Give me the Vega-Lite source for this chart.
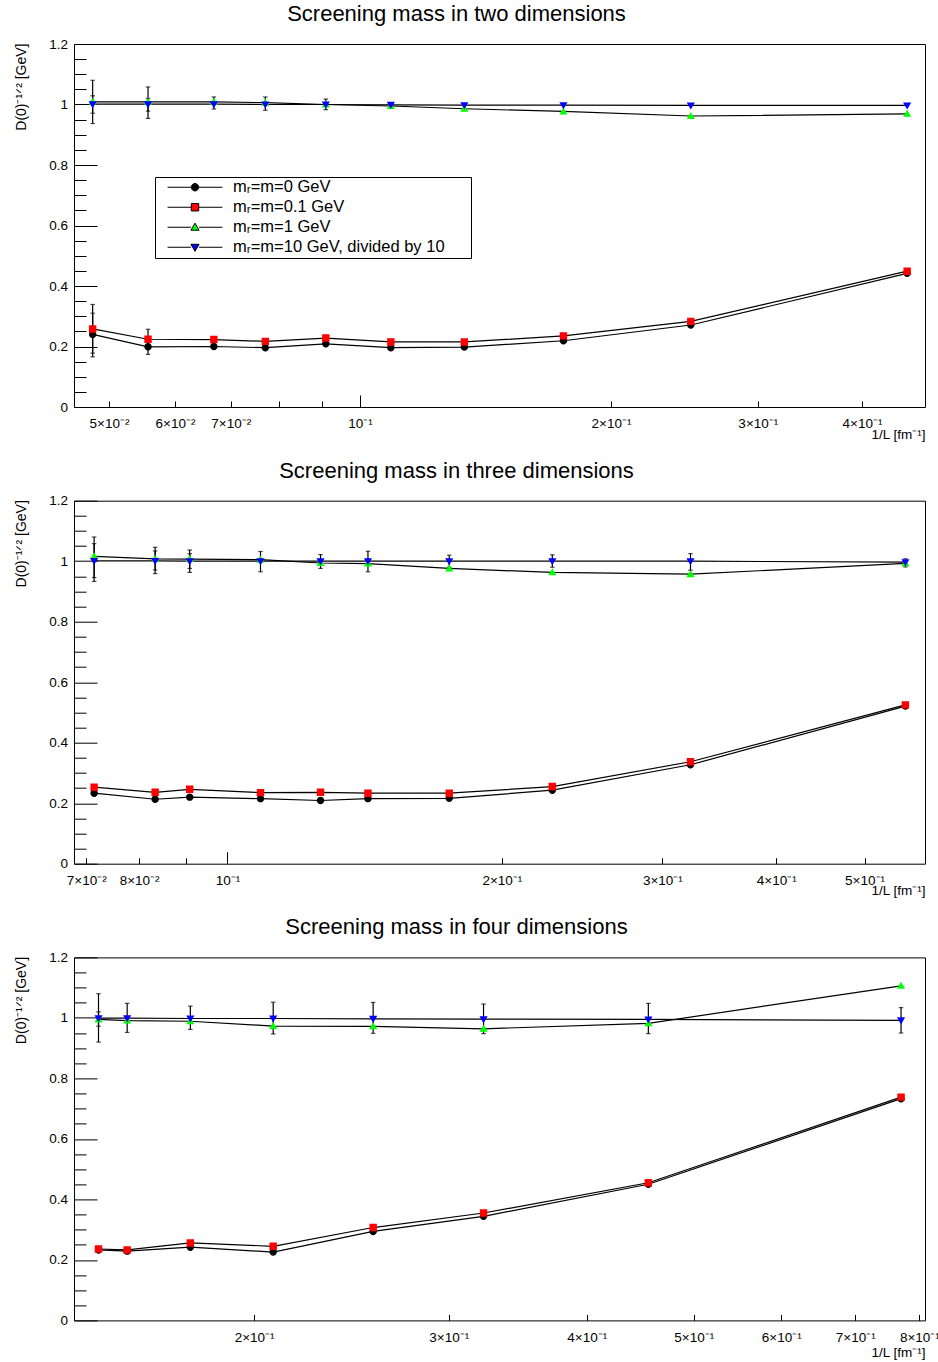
{
  "$schema": "https://vega.github.io/schema/vega-lite/v6.json",
  "autosize": {"type": "pad"},
  "padding": {"left": 13, "top": 2, "right": 0, "bottom": 0},
  "background": "white",
  "config": {
    "font": "Liberation Sans",
    "view": {"stroke": "black", "strokeWidth": 1},
    "axis": {"grid": false, "domain": false, "tickColor": "black", "tickWidth": 1, "labelColor": "black", "titleColor": "black", "labelFont": "Liberation Sans", "titleFont": "Liberation Sans", "titleFontWeight": "normal", "labelFontSize": 13.5, "titleFontSize": 14, "labelOverlap": false, "labelFlush": false, "labelBound": false}
  },
  "data": {"values": [
    {"d":2,"s":"mᵣ=m=0 GeV","x":0.0478,"y":0.240,"lo":0.166,"hi":0.310},
    {"d":2,"s":"mᵣ=m=0 GeV","x":0.0557,"y":0.199,"lo":0.174,"hi":0.224},
    {"d":2,"s":"mᵣ=m=0 GeV","x":0.0668,"y":0.200},
    {"d":2,"s":"mᵣ=m=0 GeV","x":0.0770,"y":0.196},
    {"d":2,"s":"mᵣ=m=0 GeV","x":0.0910,"y":0.209},
    {"d":2,"s":"mᵣ=m=0 GeV","x":0.1089,"y":0.196},
    {"d":2,"s":"mᵣ=m=0 GeV","x":0.1334,"y":0.198},
    {"d":2,"s":"mᵣ=m=0 GeV","x":0.1754,"y":0.219},
    {"d":2,"s":"mᵣ=m=0 GeV","x":0.2493,"y":0.271},
    {"d":2,"s":"mᵣ=m=0 GeV","x":0.4531,"y":0.442},
    {"d":2,"s":"mᵣ=m=0.1 GeV","x":0.0478,"y":0.258,"lo":0.178,"hi":0.339},
    {"d":2,"s":"mᵣ=m=0.1 GeV","x":0.0557,"y":0.224,"lo":0.191,"hi":0.257},
    {"d":2,"s":"mᵣ=m=0.1 GeV","x":0.0668,"y":0.223},
    {"d":2,"s":"mᵣ=m=0.1 GeV","x":0.0770,"y":0.217},
    {"d":2,"s":"mᵣ=m=0.1 GeV","x":0.0910,"y":0.228},
    {"d":2,"s":"mᵣ=m=0.1 GeV","x":0.1089,"y":0.215},
    {"d":2,"s":"mᵣ=m=0.1 GeV","x":0.1334,"y":0.215},
    {"d":2,"s":"mᵣ=m=0.1 GeV","x":0.1754,"y":0.235},
    {"d":2,"s":"mᵣ=m=0.1 GeV","x":0.2493,"y":0.283},
    {"d":2,"s":"mᵣ=m=0.1 GeV","x":0.4531,"y":0.449},
    {"d":2,"s":"mᵣ=m=1 GeV","x":0.0478,"y":1.009,"lo":0.937,"hi":1.080},
    {"d":2,"s":"mᵣ=m=1 GeV","x":0.0557,"y":1.009,"lo":0.954,"hi":1.058},
    {"d":2,"s":"mᵣ=m=1 GeV","x":0.0668,"y":1.009,"lo":0.985,"hi":1.025},
    {"d":2,"s":"mᵣ=m=1 GeV","x":0.0770,"y":1.006,"lo":0.981,"hi":1.025},
    {"d":2,"s":"mᵣ=m=1 GeV","x":0.0910,"y":1.000},
    {"d":2,"s":"mᵣ=m=1 GeV","x":0.1089,"y":0.995},
    {"d":2,"s":"mᵣ=m=1 GeV","x":0.1334,"y":0.986},
    {"d":2,"s":"mᵣ=m=1 GeV","x":0.1754,"y":0.977},
    {"d":2,"s":"mᵣ=m=1 GeV","x":0.2493,"y":0.962},
    {"d":2,"s":"mᵣ=m=1 GeV","x":0.4531,"y":0.969},
    {"d":2,"s":"mᵣ=m=10 GeV, divided by 10","x":0.0478,"y":1.001,"lo":0.971,"hi":1.029},
    {"d":2,"s":"mᵣ=m=10 GeV, divided by 10","x":0.0557,"y":1.001,"lo":0.978,"hi":1.020},
    {"d":2,"s":"mᵣ=m=10 GeV, divided by 10","x":0.0668,"y":1.001},
    {"d":2,"s":"mᵣ=m=10 GeV, divided by 10","x":0.0770,"y":1.000},
    {"d":2,"s":"mᵣ=m=10 GeV, divided by 10","x":0.0910,"y":1.000,"lo":0.983,"hi":1.018},
    {"d":2,"s":"mᵣ=m=10 GeV, divided by 10","x":0.1089,"y":0.999},
    {"d":2,"s":"mᵣ=m=10 GeV, divided by 10","x":0.1334,"y":0.998},
    {"d":2,"s":"mᵣ=m=10 GeV, divided by 10","x":0.1754,"y":0.998},
    {"d":2,"s":"mᵣ=m=10 GeV, divided by 10","x":0.2493,"y":0.997},
    {"d":2,"s":"mᵣ=m=10 GeV, divided by 10","x":0.4531,"y":0.997},

    {"d":3,"s":"mᵣ=m=0 GeV","x":0.0714,"y":0.233},
    {"d":3,"s":"mᵣ=m=0 GeV","x":0.0833,"y":0.213},
    {"d":3,"s":"mᵣ=m=0 GeV","x":0.0909,"y":0.220},
    {"d":3,"s":"mᵣ=m=0 GeV","x":0.1087,"y":0.215},
    {"d":3,"s":"mᵣ=m=0 GeV","x":0.1265,"y":0.209},
    {"d":3,"s":"mᵣ=m=0 GeV","x":0.1426,"y":0.215},
    {"d":3,"s":"mᵣ=m=0 GeV","x":0.1751,"y":0.216},
    {"d":3,"s":"mᵣ=m=0 GeV","x":0.2272,"y":0.243},
    {"d":3,"s":"mᵣ=m=0 GeV","x":0.3221,"y":0.327},
    {"d":3,"s":"mᵣ=m=0 GeV","x":0.5544,"y":0.521},
    {"d":3,"s":"mᵣ=m=0.1 GeV","x":0.0714,"y":0.253},
    {"d":3,"s":"mᵣ=m=0.1 GeV","x":0.0833,"y":0.236},
    {"d":3,"s":"mᵣ=m=0.1 GeV","x":0.0909,"y":0.246},
    {"d":3,"s":"mᵣ=m=0.1 GeV","x":0.1087,"y":0.235},
    {"d":3,"s":"mᵣ=m=0.1 GeV","x":0.1265,"y":0.236},
    {"d":3,"s":"mᵣ=m=0.1 GeV","x":0.1426,"y":0.233},
    {"d":3,"s":"mᵣ=m=0.1 GeV","x":0.1751,"y":0.233},
    {"d":3,"s":"mᵣ=m=0.1 GeV","x":0.2272,"y":0.255},
    {"d":3,"s":"mᵣ=m=0.1 GeV","x":0.3221,"y":0.337},
    {"d":3,"s":"mᵣ=m=0.1 GeV","x":0.5544,"y":0.525},
    {"d":3,"s":"mᵣ=m=1 GeV","x":0.0714,"y":1.016,"lo":0.946,"hi":1.080},
    {"d":3,"s":"mᵣ=m=1 GeV","x":0.0833,"y":1.008,"lo":0.971,"hi":1.034},
    {"d":3,"s":"mᵣ=m=1 GeV","x":0.0909,"y":1.007,"lo":0.976,"hi":1.025},
    {"d":3,"s":"mᵣ=m=1 GeV","x":0.1087,"y":1.005},
    {"d":3,"s":"mᵣ=m=1 GeV","x":0.1265,"y":0.994},
    {"d":3,"s":"mᵣ=m=1 GeV","x":0.1426,"y":0.992},
    {"d":3,"s":"mᵣ=m=1 GeV","x":0.1751,"y":0.976},
    {"d":3,"s":"mᵣ=m=1 GeV","x":0.2272,"y":0.963},
    {"d":3,"s":"mᵣ=m=1 GeV","x":0.3221,"y":0.957},
    {"d":3,"s":"mᵣ=m=1 GeV","x":0.5544,"y":0.993},
    {"d":3,"s":"mᵣ=m=10 GeV, divided by 10","x":0.0714,"y":1.001,"lo":0.933,"hi":1.058},
    {"d":3,"s":"mᵣ=m=10 GeV, divided by 10","x":0.0833,"y":1.001,"lo":0.959,"hi":1.046},
    {"d":3,"s":"mᵣ=m=10 GeV, divided by 10","x":0.0909,"y":1.000,"lo":0.963,"hi":1.037},
    {"d":3,"s":"mᵣ=m=10 GeV, divided by 10","x":0.1087,"y":1.000,"lo":0.965,"hi":1.032},
    {"d":3,"s":"mᵣ=m=10 GeV, divided by 10","x":0.1265,"y":1.000,"lo":0.976,"hi":1.022},
    {"d":3,"s":"mᵣ=m=10 GeV, divided by 10","x":0.1426,"y":1.000,"lo":0.965,"hi":1.033},
    {"d":3,"s":"mᵣ=m=10 GeV, divided by 10","x":0.1751,"y":1.000,"lo":0.980,"hi":1.020},
    {"d":3,"s":"mᵣ=m=10 GeV, divided by 10","x":0.2272,"y":1.000,"lo":0.980,"hi":1.021},
    {"d":3,"s":"mᵣ=m=10 GeV, divided by 10","x":0.3221,"y":1.000,"lo":0.970,"hi":1.025},
    {"d":3,"s":"mᵣ=m=10 GeV, divided by 10","x":0.5544,"y":0.997,"lo":0.981,"hi":1.008},

    {"d":4,"s":"mᵣ=m=0 GeV","x":0.1446,"y":0.233},
    {"d":4,"s":"mᵣ=m=0 GeV","x":0.1535,"y":0.229},
    {"d":4,"s":"mᵣ=m=0 GeV","x":0.1751,"y":0.242},
    {"d":4,"s":"mᵣ=m=0 GeV","x":0.2081,"y":0.226},
    {"d":4,"s":"mᵣ=m=0 GeV","x":0.2563,"y":0.294},
    {"d":4,"s":"mᵣ=m=0 GeV","x":0.3226,"y":0.344},
    {"d":4,"s":"mᵣ=m=0 GeV","x":0.4548,"y":0.450},
    {"d":4,"s":"mᵣ=m=0 GeV","x":0.7701,"y":0.733},
    {"d":4,"s":"mᵣ=m=0.1 GeV","x":0.1446,"y":0.236},
    {"d":4,"s":"mᵣ=m=0.1 GeV","x":0.1535,"y":0.233},
    {"d":4,"s":"mᵣ=m=0.1 GeV","x":0.1751,"y":0.256},
    {"d":4,"s":"mᵣ=m=0.1 GeV","x":0.2081,"y":0.245},
    {"d":4,"s":"mᵣ=m=0.1 GeV","x":0.2563,"y":0.307},
    {"d":4,"s":"mᵣ=m=0.1 GeV","x":0.3226,"y":0.355},
    {"d":4,"s":"mᵣ=m=0.1 GeV","x":0.4548,"y":0.455},
    {"d":4,"s":"mᵣ=m=0.1 GeV","x":0.7701,"y":0.738},
    {"d":4,"s":"mᵣ=m=1 GeV","x":0.1446,"y":0.995,"lo":0.9725,"hi":1.020},
    {"d":4,"s":"mᵣ=m=1 GeV","x":0.1535,"y":0.991},
    {"d":4,"s":"mᵣ=m=1 GeV","x":0.1751,"y":0.989},
    {"d":4,"s":"mᵣ=m=1 GeV","x":0.2081,"y":0.973},
    {"d":4,"s":"mᵣ=m=1 GeV","x":0.2563,"y":0.972},
    {"d":4,"s":"mᵣ=m=1 GeV","x":0.3226,"y":0.964},
    {"d":4,"s":"mᵣ=m=1 GeV","x":0.4548,"y":0.982},
    {"d":4,"s":"mᵣ=m=1 GeV","x":0.7701,"y":1.106},
    {"d":4,"s":"mᵣ=m=10 GeV, divided by 10","x":0.1446,"y":0.999,"lo":0.920,"hi":1.080},
    {"d":4,"s":"mᵣ=m=10 GeV, divided by 10","x":0.1535,"y":0.999,"lo":0.952,"hi":1.048},
    {"d":4,"s":"mᵣ=m=10 GeV, divided by 10","x":0.1751,"y":0.998,"lo":0.962,"hi":1.039},
    {"d":4,"s":"mᵣ=m=10 GeV, divided by 10","x":0.2081,"y":0.998,"lo":0.947,"hi":1.052},
    {"d":4,"s":"mᵣ=m=10 GeV, divided by 10","x":0.2563,"y":0.997,"lo":0.949,"hi":1.051},
    {"d":4,"s":"mᵣ=m=10 GeV, divided by 10","x":0.3226,"y":0.996,"lo":0.948,"hi":1.046},
    {"d":4,"s":"mᵣ=m=10 GeV, divided by 10","x":0.4548,"y":0.995,"lo":0.948,"hi":1.048},
    {"d":4,"s":"mᵣ=m=10 GeV, divided by 10","x":0.7701,"y":0.992,"lo":0.950,"hi":1.034}
  ]},
  "spacing": 93.7,
  "bounds": "flush",
  "resolve": {"scale": {"x": "independent", "y": "independent", "shape": "independent", "fill": "independent", "stroke": "independent"}, "axis": {"x": "independent", "y": "independent"}, "legend": {"shape": "independent", "fill": "independent", "stroke": "independent"}},
  "vconcat": [
    {
      "title": {"text": "Screening mass in two dimensions", "fontSize": 22, "fontWeight": "normal", "font": "Liberation Sans", "color": "black", "anchor": "middle", "frame": "group", "dx": -43, "baseline": "alphabetic", "offset": -6},
      "width": 851, "height": 363,
      "transform": [{"filter": "datum.d == 2"}],
      "layer": [
        {
          "mark": {"type": "line", "color": "black", "strokeWidth": 1.2},
          "encoding": {
            "x": {"field": "x", "type": "quantitative", "scale": {"type": "log", "domain": [0.0454, 0.476], "nice": false},
              "axis": {"orient": "bottom", "values": [0.05, 0.06, 0.07, 0.08, 0.09, 0.1, 0.2, 0.3, 0.4], "tickSize": -6, "labelPadding": 26.7, "labelBaseline": "alphabetic",
                "labelExpr": "datum.value < 0.055 ? '5×10⁻²' : datum.value < 0.065 ? '6×10⁻²' : datum.value < 0.075 ? '7×10⁻²' : datum.value < 0.095 ? '' : datum.value < 0.15 ? '10⁻¹' : datum.value < 0.25 ? '2×10⁻¹' : datum.value < 0.35 ? '3×10⁻¹' : '4×10⁻¹'",
                "title": "1/L [fm⁻¹]", "titleX": 851, "titleY": 31, "titleAlign": "right", "titleAnchor": "end", "titleBaseline": "alphabetic", "titleFontSize": 13.5}},
            "y": {"field": "y", "type": "quantitative", "scale": {"domain": [0, 1.2], "nice": false, "zero": false},
              "axis": {"orient": "left", "values": [0, 0.2, 0.4, 0.6, 0.8, 1, 1.2], "format": "~g", "tickSize": -23, "labelPadding": 29.5,
                "title": "D(0)⁻¹ᐟ² [GeV]", "titleAngle": 270, "titleX": -49, "titleY": -1, "titleAlign": "right", "titleAnchor": "end", "titleBaseline": "alphabetic", "titleFontSize": 14}},
            "detail": {"field": "s", "type": "nominal"}
          }
        },
        {
          "transform": [{"filter": "isValid(datum.lo)"}],
          "mark": {"type": "errorbar", "color": "black", "thickness": 1.2, "ticks": {"size": 4.5, "thickness": 1.2, "color": "black"}},
          "encoding": {
            "x": {"field": "x", "type": "quantitative", "axis": null},
            "y": {"field": "lo", "type": "quantitative", "axis": null},
            "y2": {"field": "hi"}
          }
        },
        {
          "mark": {"type": "point", "filled": true, "size": 55, "opacity": 1},
          "encoding": {
            "x": {"field": "x", "type": "quantitative", "axis": {"orient": "bottom", "values": [0.1], "tickSize": -12, "labels": false, "title": null}},
            "y": {"field": "y", "type": "quantitative", "axis": {"orient": "left", "values": [0.05, 0.1, 0.15, 0.25, 0.3, 0.35, 0.45, 0.5, 0.55, 0.65, 0.7, 0.75, 0.85, 0.9, 0.95, 1.05, 1.1, 1.15], "tickSize": -12, "labels": false, "title": null}},
            "strokeWidth": {"value": 0},
            "shape": {"field": "s", "type": "nominal",
              "scale": {"domain": ["mᵣ=m=0 GeV", "mᵣ=m=0.1 GeV", "mᵣ=m=1 GeV", "mᵣ=m=10 GeV, divided by 10"],
                "range": ["M-7.4,0H-1M1,0H7.4M1,0A1,1,0,1,1,-1,0A1,1,0,1,1,1,0Z", "M-7.4,0H-1M1,0H7.4M-1,-1H1V1H-1Z", "M-7.4,0H-1.1M1.1,0H7.4M0,-1.1L1.1,0.8L-1.1,0.8Z", "M-7.4,0H-1.1M1.1,0H7.4M0,1.1L1.1,-0.8L-1.1,-0.8Z"]},
              "legend": {"orient": "none", "legendX": 81, "legendY": 133, "title": null, "padding": 2, "strokeColor": "black", "fillColor": "white", "symbolSize": 55, "symbolOffset": 29.75, "labelOffset": 29.75, "labelFontSize": 16.5, "labelFont": "Liberation Sans", "labelColor": "black", "rowPadding": 3, "labelLimit": 600, "symbolStrokeWidth": 1,
                "labelExpr": "datum.label + '\u2800\u2800'"}},
            "fill": {"field": "s", "type": "nominal",
              "scale": {"domain": ["mᵣ=m=0 GeV", "mᵣ=m=0.1 GeV", "mᵣ=m=1 GeV", "mᵣ=m=10 GeV, divided by 10"], "range": ["#000000", "#ff0000", "#00ff00", "#0000ff"]},
              "legend": {"orient": "none", "legendX": 81, "legendY": 133, "title": null, "padding": 2, "strokeColor": "black", "fillColor": "white", "symbolSize": 55, "symbolOffset": 29.75, "labelOffset": 29.75, "labelFontSize": 16.5, "labelFont": "Liberation Sans", "labelColor": "black", "rowPadding": 3, "labelLimit": 600, "symbolStrokeWidth": 1,
                "labelExpr": "datum.label + '\u2800\u2800'"}},
            "stroke": {"field": "s", "type": "nominal",
              "scale": {"domain": ["mᵣ=m=0 GeV", "mᵣ=m=0.1 GeV", "mᵣ=m=1 GeV", "mᵣ=m=10 GeV, divided by 10"], "range": ["#000000", "#000000", "#000000", "#000000"]},
              "legend": {"orient": "none", "legendX": 81, "legendY": 133, "title": null, "padding": 2, "strokeColor": "black", "fillColor": "white", "symbolSize": 55, "symbolOffset": 29.75, "labelOffset": 29.75, "labelFontSize": 16.5, "labelFont": "Liberation Sans", "labelColor": "black", "rowPadding": 3, "labelLimit": 600, "symbolStrokeWidth": 1,
                "labelExpr": "datum.label + '\u2800\u2800'"}}
          }
        }
      ],
      "resolve": {"axis": {"x": "independent", "y": "independent"}}
    },
    {
      "title": {"text": "Screening mass in three dimensions", "fontSize": 22, "fontWeight": "normal", "font": "Liberation Sans", "color": "black", "anchor": "middle", "frame": "group", "dx": -43, "baseline": "alphabetic", "offset": -6},
      "width": 851, "height": 363,
      "transform": [{"filter": "datum.d == 3"}],
      "layer": [
        {
          "mark": {"type": "line", "color": "black", "strokeWidth": 1.2},
          "encoding": {
            "x": {"field": "x", "type": "quantitative", "scale": {"type": "log", "domain": [0.06786, 0.5825], "nice": false},
              "axis": {"orient": "bottom", "values": [0.07, 0.08, 0.09, 0.1, 0.2, 0.3, 0.4, 0.5], "tickSize": -6, "labelPadding": 26.7, "labelBaseline": "alphabetic",
                "labelExpr": "datum.value < 0.075 ? '7×10⁻²' : datum.value < 0.085 ? '8×10⁻²' : datum.value < 0.095 ? '' : datum.value < 0.15 ? '10⁻¹' : datum.value < 0.25 ? '2×10⁻¹' : datum.value < 0.35 ? '3×10⁻¹' : datum.value < 0.45 ? '4×10⁻¹' : '5×10⁻¹'",
                "title": "1/L [fm⁻¹]", "titleX": 851, "titleY": 31, "titleAlign": "right", "titleAnchor": "end", "titleBaseline": "alphabetic", "titleFontSize": 13.5}},
            "y": {"field": "y", "type": "quantitative", "scale": {"domain": [0, 1.2], "nice": false, "zero": false},
              "axis": {"orient": "left", "values": [0, 0.2, 0.4, 0.6, 0.8, 1, 1.2], "format": "~g", "tickSize": -23, "labelPadding": 29.5,
                "title": "D(0)⁻¹ᐟ² [GeV]", "titleAngle": 270, "titleX": -49, "titleY": -1, "titleAlign": "right", "titleAnchor": "end", "titleBaseline": "alphabetic", "titleFontSize": 14}},
            "detail": {"field": "s", "type": "nominal"}
          }
        },
        {
          "transform": [{"filter": "isValid(datum.lo)"}],
          "mark": {"type": "errorbar", "color": "black", "thickness": 1.2, "ticks": {"size": 4.5, "thickness": 1.2, "color": "black"}},
          "encoding": {
            "x": {"field": "x", "type": "quantitative", "axis": null},
            "y": {"field": "lo", "type": "quantitative", "axis": null},
            "y2": {"field": "hi"}
          }
        },
        {
          "mark": {"type": "point", "filled": true, "size": 55, "opacity": 1},
          "encoding": {
            "x": {"field": "x", "type": "quantitative", "axis": {"orient": "bottom", "values": [0.1], "tickSize": -12, "labels": false, "title": null}},
            "y": {"field": "y", "type": "quantitative", "axis": {"orient": "left", "values": [0.05, 0.1, 0.15, 0.25, 0.3, 0.35, 0.45, 0.5, 0.55, 0.65, 0.7, 0.75, 0.85, 0.9, 0.95, 1.05, 1.1, 1.15], "tickSize": -12, "labels": false, "title": null}},
            "shape": {"field": "s", "type": "nominal",
              "scale": {"domain": ["mᵣ=m=0 GeV", "mᵣ=m=0.1 GeV", "mᵣ=m=1 GeV", "mᵣ=m=10 GeV, divided by 10"],
                "range": ["M-7.4,0H-1M1,0H7.4M1,0A1,1,0,1,1,-1,0A1,1,0,1,1,1,0Z", "M-7.4,0H-1M1,0H7.4M-1,-1H1V1H-1Z", "M-7.4,0H-1.1M1.1,0H7.4M0,-1.1L1.1,0.8L-1.1,0.8Z", "M-7.4,0H-1.1M1.1,0H7.4M0,1.1L1.1,-0.8L-1.1,-0.8Z"]},
              "legend": null},
            "fill": {"field": "s", "type": "nominal",
              "scale": {"domain": ["mᵣ=m=0 GeV", "mᵣ=m=0.1 GeV", "mᵣ=m=1 GeV", "mᵣ=m=10 GeV, divided by 10"], "range": ["#000000", "#ff0000", "#00ff00", "#0000ff"]},
              "legend": null}
          }
        }
      ],
      "resolve": {"axis": {"x": "independent", "y": "independent"}}
    },
    {
      "title": {"text": "Screening mass in four dimensions", "fontSize": 22, "fontWeight": "normal", "font": "Liberation Sans", "color": "black", "anchor": "middle", "frame": "group", "dx": -43, "baseline": "alphabetic", "offset": -6},
      "width": 851, "height": 363,
      "transform": [{"filter": "datum.d == 4"}],
      "layer": [
        {
          "mark": {"type": "line", "color": "black", "strokeWidth": 1.2},
          "encoding": {
            "x": {"field": "x", "type": "quantitative", "scale": {"type": "log", "domain": [0.1374, 0.8095], "nice": false},
              "axis": {"orient": "bottom", "values": [0.2, 0.3, 0.4, 0.5, 0.6, 0.7, 0.8], "tickSize": -6, "labelPadding": 26.7, "labelBaseline": "alphabetic",
                "labelExpr": "round(datum.value * 10) + '×10⁻¹'",
                "title": "1/L [fm⁻¹]", "titleX": 851, "titleY": 36, "titleAlign": "right", "titleAnchor": "end", "titleBaseline": "alphabetic", "titleFontSize": 13.5}},
            "y": {"field": "y", "type": "quantitative", "scale": {"domain": [0, 1.2], "nice": false, "zero": false},
              "axis": {"orient": "left", "values": [0, 0.2, 0.4, 0.6, 0.8, 1, 1.2], "format": "~g", "tickSize": -23, "labelPadding": 29.5,
                "title": "D(0)⁻¹ᐟ² [GeV]", "titleAngle": 270, "titleX": -49, "titleY": -1, "titleAlign": "right", "titleAnchor": "end", "titleBaseline": "alphabetic", "titleFontSize": 14}},
            "detail": {"field": "s", "type": "nominal"}
          }
        },
        {
          "transform": [{"filter": "isValid(datum.lo)"}],
          "mark": {"type": "errorbar", "color": "black", "thickness": 1.2, "ticks": {"size": 4.5, "thickness": 1.2, "color": "black"}},
          "encoding": {
            "x": {"field": "x", "type": "quantitative", "axis": null},
            "y": {"field": "lo", "type": "quantitative", "axis": null},
            "y2": {"field": "hi"}
          }
        },
        {
          "mark": {"type": "point", "filled": true, "size": 55, "opacity": 1},
          "encoding": {
            "x": {"field": "x", "type": "quantitative", "axis": null},
            "y": {"field": "y", "type": "quantitative", "axis": {"orient": "left", "values": [0.05, 0.1, 0.15, 0.25, 0.3, 0.35, 0.45, 0.5, 0.55, 0.65, 0.7, 0.75, 0.85, 0.9, 0.95, 1.05, 1.1, 1.15], "tickSize": -12, "labels": false, "title": null}},
            "shape": {"field": "s", "type": "nominal",
              "scale": {"domain": ["mᵣ=m=0 GeV", "mᵣ=m=0.1 GeV", "mᵣ=m=1 GeV", "mᵣ=m=10 GeV, divided by 10"],
                "range": ["M-7.4,0H-1M1,0H7.4M1,0A1,1,0,1,1,-1,0A1,1,0,1,1,1,0Z", "M-7.4,0H-1M1,0H7.4M-1,-1H1V1H-1Z", "M-7.4,0H-1.1M1.1,0H7.4M0,-1.1L1.1,0.8L-1.1,0.8Z", "M-7.4,0H-1.1M1.1,0H7.4M0,1.1L1.1,-0.8L-1.1,-0.8Z"]},
              "legend": null},
            "fill": {"field": "s", "type": "nominal",
              "scale": {"domain": ["mᵣ=m=0 GeV", "mᵣ=m=0.1 GeV", "mᵣ=m=1 GeV", "mᵣ=m=10 GeV, divided by 10"], "range": ["#000000", "#ff0000", "#00ff00", "#0000ff"]},
              "legend": null}
          }
        }
      ],
      "resolve": {"axis": {"x": "independent", "y": "independent"}}
    }
  ]
}
